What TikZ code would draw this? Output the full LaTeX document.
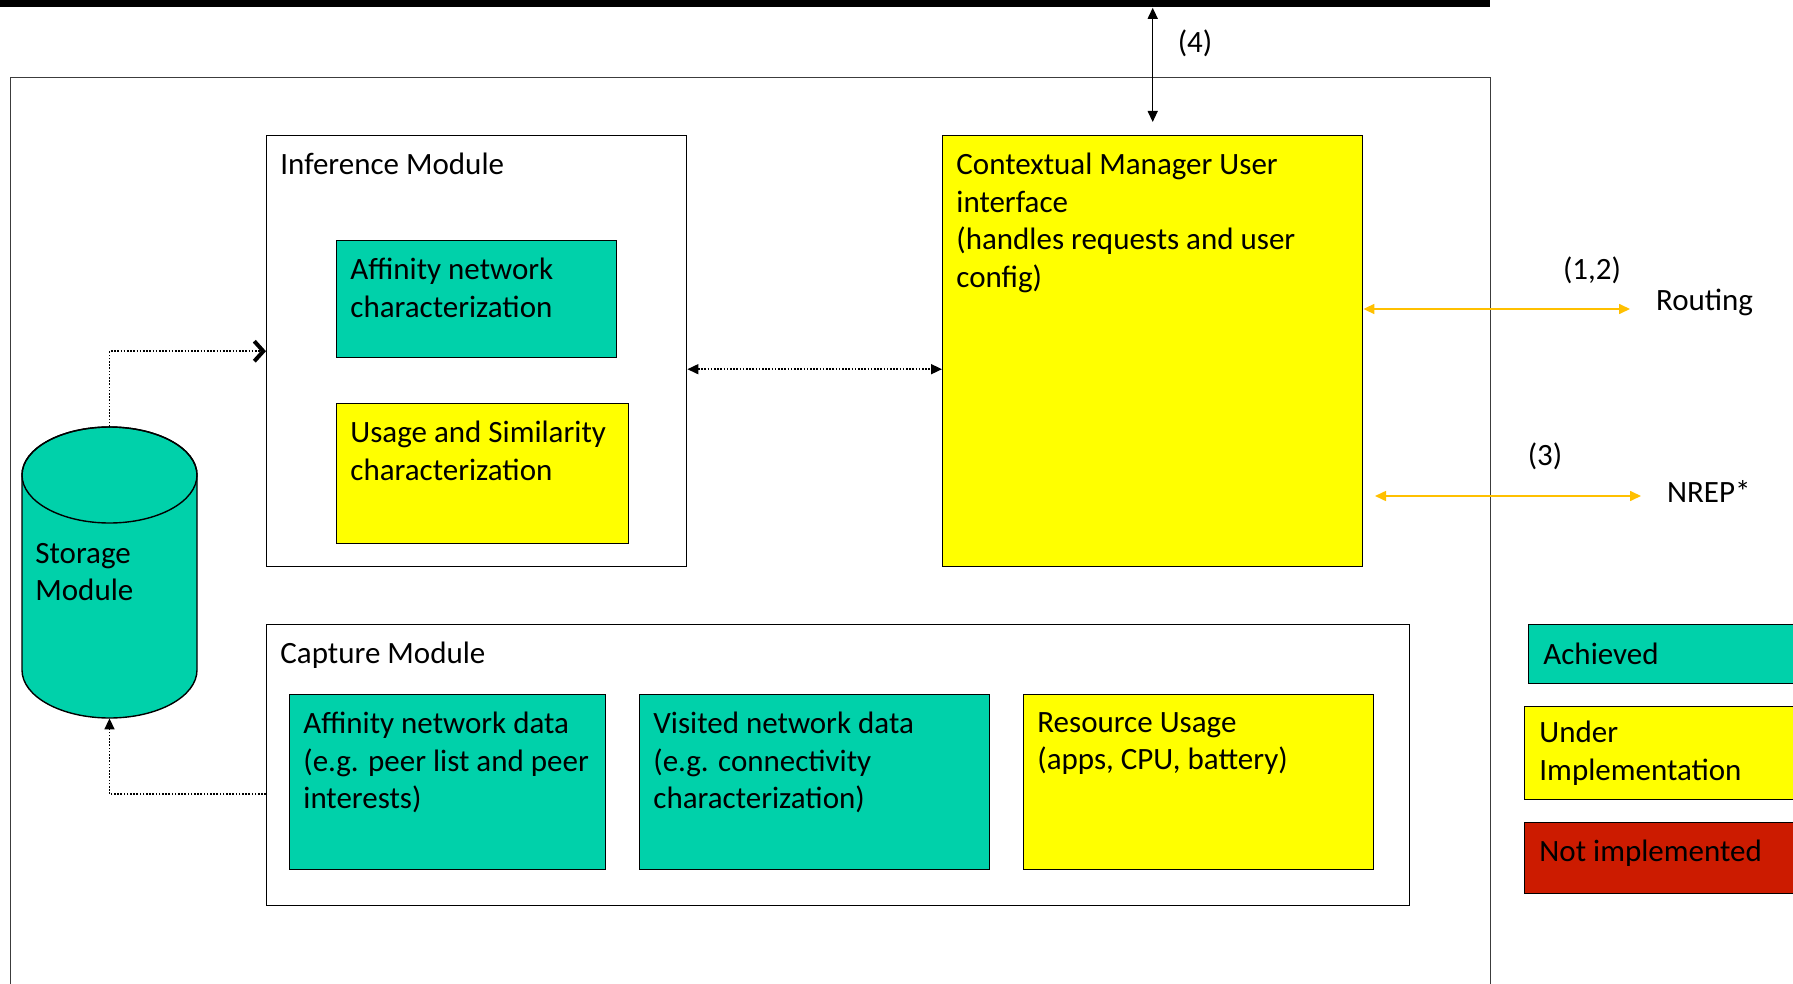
\documentclass[tikz,border=0pt]{standalone}
\usepackage{fontspec}
\setmainfont{Carlito}
\usetikzlibrary{arrows.meta,positioning}
\definecolor{achieved}{RGB}{0,209,170}
\definecolor{underway}{RGB}{255,255,0}
\definecolor{missing}{RGB}{204,27,0}
\definecolor{extlink}{RGB}{255,192,0}
\definecolor{frame}{RGB}{60,60,60}
\tikzset{
    every node/.style={font=\fontsize{15.5}{18.7}\selectfont, text=black},
    sz/.style 2 args={minimum width=#1*0.5pt, minimum height=#2*0.5pt},
    module/.style={draw=black, line width=0.7pt, inner sep=0pt, anchor=north west},
    done/.style={module, fill=achieved},
    wip/.style={module, fill=underway},
    todo/.style={module, fill=missing},
    boxtext/.style={anchor=north west, inner xsep=7pt, inner ysep=9pt, align=left},
    keytext/.style={anchor=west, inner xsep=7.5pt, align=left},
    dotlink/.style={line width=0.8pt, dash pattern=on 0.8pt off 0.8pt},
    solidlink/.style={line width=0.7pt, {Triangle[length=5.5pt,width=5pt]}-{Triangle[length=5.5pt,width=5pt]}},
    extarrow/.style={draw=extlink, line width=0.8pt,
        {Triangle[length=5.5pt,width=5pt]}-{Triangle[length=5.5pt,width=5pt]}}
}

\begin{document}
\begin{tikzpicture}[x=0.5pt, y=-0.5pt]
\useasboundingbox (0,0) rectangle (1793,984);

% bus on top and the system frame
\node[fill=black, inner sep=0pt, sz={1490}{7}, anchor=north west] (bar) at (0,0) {};
\node[module, draw=frame, sz={1480}{960}] (sys) at (10,77) {};

% inference module
\node[module, sz={420}{431}] (inf) at (266,135) {};
\node[boxtext] at (inf.north west) {Inference Module};
\node[done, sz={280}{117}] (affchar) at (336,240) {};
\node[boxtext] at (affchar.north west) {Affinity network\\characterization};
\node[wip, sz={292}{140}] (usechar) at (336,403) {};
\node[boxtext] at (usechar.north west) {Usage and Similarity\\characterization};

% contextual manager
\node[wip, sz={420}{431}] (ctx) at (942,135) {};
\node[boxtext] at (ctx.north west) {Contextual Manager User\\interface\\(handles requests and user\\config)};

% capture module
\node[module, sz={1143}{281}] (cap) at (266,624) {};
\node[boxtext] at (cap.north west) {Capture Module};
\node[done, sz={316}{175}] (affdata) at (289,694) {};
\node[boxtext] at (affdata.north west) {Affinity network data\\(e.g. peer list and peer\\interests)};
\node[done, sz={350}{175}] (visdata) at (639,694) {};
\node[boxtext] at (visdata.north west) {Visited network data\\(e.g. connectivity\\characterization)};
\node[wip, sz={350}{175}] (resdata) at (1023,694) {};
\node[boxtext] at (resdata.north west) {Resource Usage\\(apps, CPU, battery)};

% storage cylinder
\node[inner sep=0pt, sz={175}{291}] (store) at (109.5,572.5) {};
\path[draw=black, line width=0.7pt, fill=achieved]
    (22,475) -- (22,670) arc[start angle=180, end angle=0, x radius=87.5, y radius=48]
    -- (197,475) arc[start angle=0, end angle=-180, x radius=87.5, y radius=48] -- cycle;
\draw[line width=0.7pt] (109.5,475) ellipse[x radius=87.5, y radius=48];
\node[anchor=west, align=left, inner sep=3.5pt] (storetxt) at (28,572) {Storage\\Module};

% internal links
\draw[dotlink, -{Straight Barb[length=4.5pt,width=10pt,line width=2pt]}] (store.north) |- (inf.west);
\draw[dotlink, -{Triangle[length=5.5pt,width=5pt]}] ([yshift=-14.5pt]cap.west) -| (store.south);
\draw[dotlink, {Triangle[length=5.5pt,width=5pt]}-{Triangle[length=5.5pt,width=5pt]}]
    ([yshift=-9pt]inf.east) -- ([yshift=-9pt]ctx.west);
\draw[solidlink] (ctx.north |- bar.south) -- ([yshift=6.5pt]ctx.north);
\node (l4) at (1195,43) {(4)};

% external links
\coordinate (rt) at (1630,309);
\coordinate (nl) at (1375,496);
\coordinate (nr) at (1641,496);
\draw[extarrow] (ctx.east |- rt) -- (rt);
\draw[extarrow] (nl) -- (nr);
\node (l12) at (1592,270) {(1,2)};
\node[anchor=west] (routing) at (1649,302) {Routing};
\node (l3) at (1545,456) {(3)};
\node[anchor=west] (nrep) at (1660,491) {NREP*};

% legend
\node[done, sz={272}{59}] (kdone) at (1528,624) {};
\node[keytext] at (kdone.west) {Achieved};
\node[wip, sz={276}{93}] (kwip) at (1524,706) {};
\node[keytext] at (kwip.west) {Under\\Implementation};
\node[todo, sz={276}{71}] (ktodo) at (1524,822) {};
\node[keytext, yshift=2.5pt] at (ktodo.west) {Not implemented};
\end{tikzpicture}
\end{document}
